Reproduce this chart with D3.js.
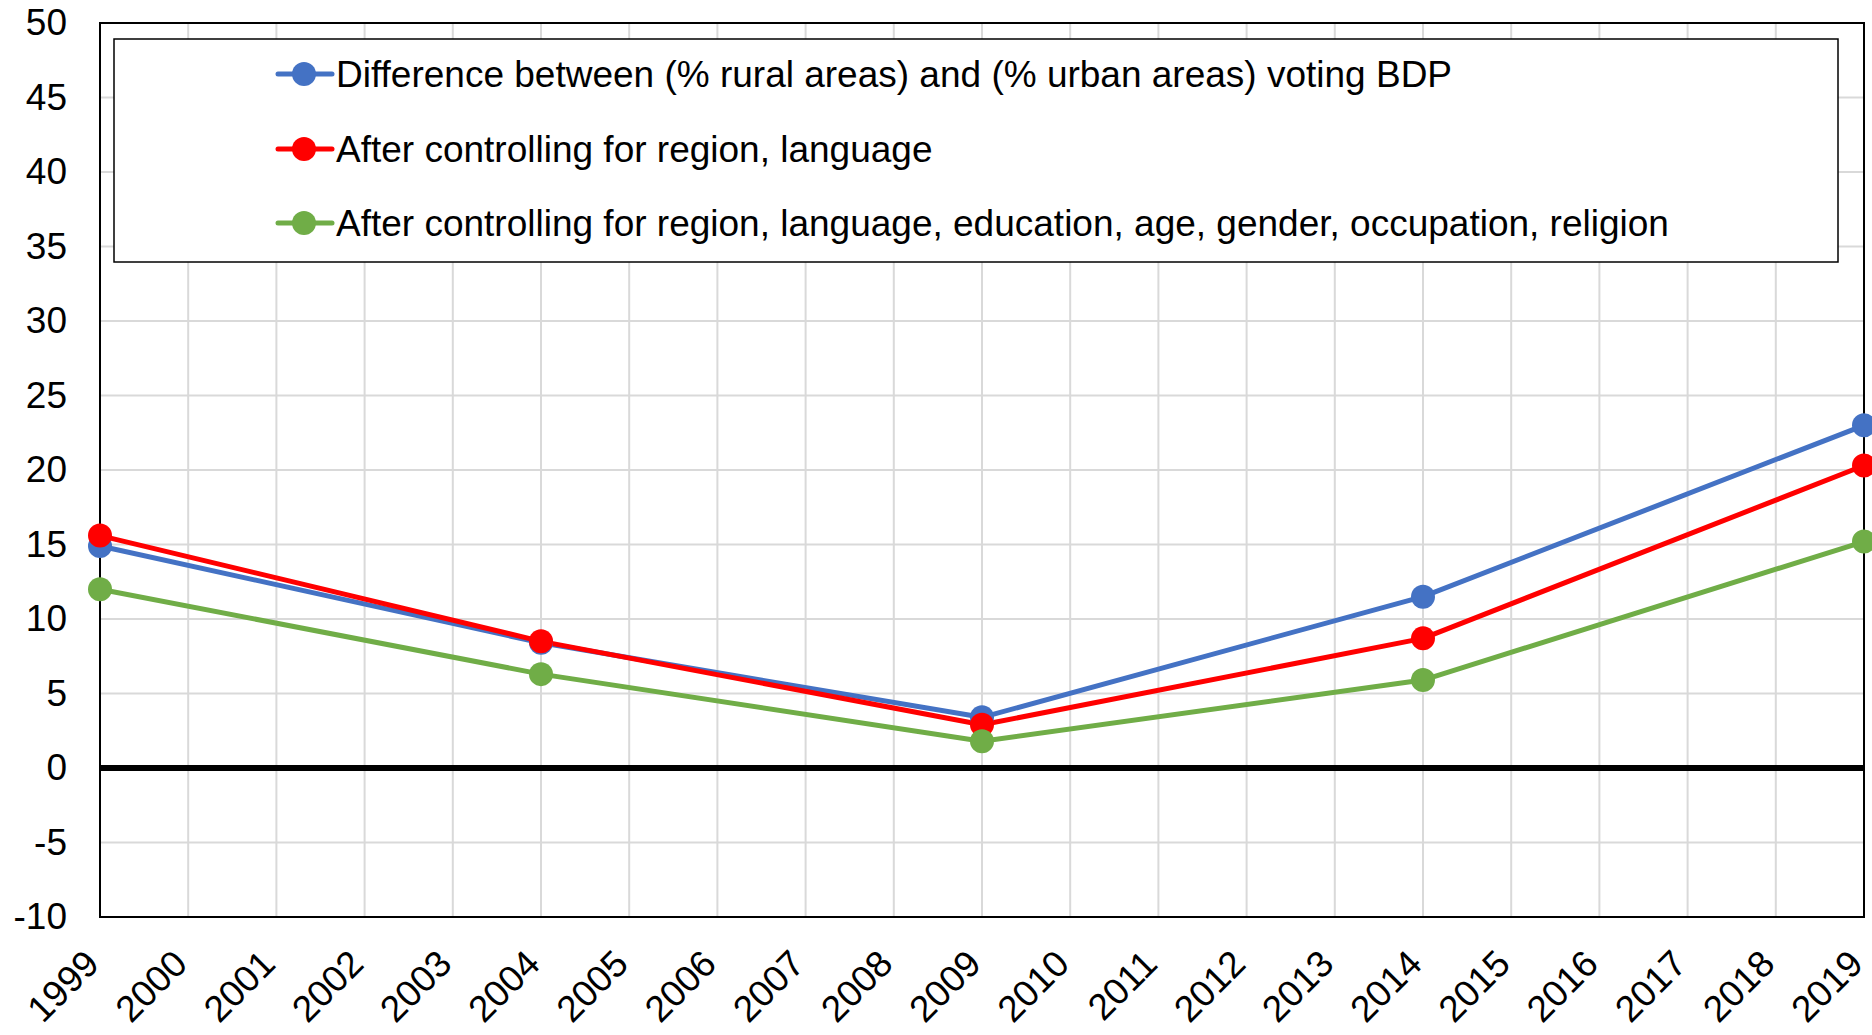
<!DOCTYPE html>
<html>
<head>
<meta charset="utf-8">
<script src="https://cdn.jsdelivr.net/npm/d3@7"></script>
<style>
  body { margin: 0; background: #fff; }
  text { font-family: Arial, "Liberation Sans", sans-serif; fill: #000; }
</style>
</head>
<body>
<div id="chart"></div>
<script>
// data
var years = [1999, 2004, 2009, 2014, 2019];
var diffAll = [14.9, 8.4, 3.4, 11.5, 23.0];
var ctrlRegionLang = [15.6, 8.5, 2.9, 8.7, 20.3];
var ctrlAll = [12.0, 6.3, 1.8, 5.9, 15.2];
var seriesNames = [
  "Difference between (% rural areas) and (% urban areas) voting BDP",
  "After controlling for region, language",
  "After controlling for region, language, education, age, gender, occupation, religion"
];
var seriesColors = ["#4472C4", "#FF0000", "#70AD47"];
var yTicks = [-10, -5, 0, 5, 10, 15, 20, 25, 30, 35, 40, 45, 50];
var xTicks = d3.range(1999, 2020);

var W = 1872, H = 1035;
var margin = { top: 23, right: 8, bottom: 118, left: 100 };
var width = W - margin.left - margin.right;
var height = H - margin.top - margin.bottom;

var svg = d3.select("#chart").append("svg")
  .attr("width", W)
  .attr("height", H);

var g = svg.append("g")
  .attr("transform", "translate(" + margin.left + "," + margin.top + ")");

var x = d3.scaleLinear().domain([1999, 2019]).range([0, width]);
var y = d3.scaleLinear().domain([-10, 50]).range([height, 0]);

// grid
g.append("g").selectAll("line.hg")
  .data(yTicks).enter().append("line")
  .attr("x1", 0).attr("x2", width)
  .attr("y1", function(d) { return y(d); })
  .attr("y2", function(d) { return y(d); })
  .style("stroke", "#d9d9d9").style("stroke-width", 2);

g.append("g").selectAll("line.vg")
  .data(xTicks).enter().append("line")
  .attr("y1", 0).attr("y2", height)
  .attr("x1", function(d) { return x(d); })
  .attr("x2", function(d) { return x(d); })
  .style("stroke", "#d9d9d9").style("stroke-width", 2);

// plot border
g.append("rect")
  .attr("width", width).attr("height", height)
  .style("fill", "none").style("stroke", "#000").style("stroke-width", 2);

// zero line
g.append("line")
  .attr("x1", 0).attr("x2", width)
  .attr("y1", y(0)).attr("y2", y(0))
  .style("stroke", "#000").style("stroke-width", 6);

// y axis labels (plain hyphen like the original)
var yAxis = d3.axisLeft(y).tickValues(yTicks).tickSize(0).tickPadding(33)
  .tickFormat(function(d) { return String(d); });
var ya = g.append("g").call(yAxis);
ya.select(".domain").remove();
ya.selectAll("text")
  .style("font-size", "37px")
  .style("font-family", "Arial, 'Liberation Sans', sans-serif");

// x axis labels, rotated
g.append("g").selectAll("text.xl")
  .data(xTicks).enter().append("text")
  .attr("transform", function(d) {
    return "translate(" + (x(d) + 1) + "," + (966 - margin.top) + ") rotate(-45)";
  })
  .attr("text-anchor", "end")
  .style("font-size", "37px")
  .text(function(d) { return d; });

// lines
var allSeries = [diffAll, ctrlRegionLang, ctrlAll];
var line = d3.line()
  .x(function(d, i) { return x(years[i]); })
  .y(function(d) { return y(d); });

allSeries.forEach(function(vals, si) {
  g.append("path")
    .datum(vals)
    .attr("d", line)
    .style("fill", "none")
    .style("stroke", seriesColors[si])
    .style("stroke-width", 5)
    .style("stroke-linejoin", "round");
});
allSeries.forEach(function(vals, si) {
  g.append("g").selectAll("circle")
    .data(vals).enter().append("circle")
    .attr("cx", function(d, i) { return x(years[i]); })
    .attr("cy", function(d) { return y(d); })
    .attr("r", 12)
    .style("fill", seriesColors[si]);
});

// legend
var legend = svg.append("g");
legend.append("rect")
  .attr("x", 114).attr("y", 39)
  .attr("width", 1724).attr("height", 223)
  .style("fill", "#fff").style("stroke", "#000").style("stroke-width", 1.5);

var rowY = [74, 149, 223];
seriesNames.forEach(function(name, i) {
  var row = legend.append("g").attr("transform", "translate(0," + rowY[i] + ")");
  row.append("line")
    .attr("x1", 278).attr("x2", 332)
    .style("stroke", seriesColors[i]).style("stroke-width", 5)
    .style("stroke-linecap", "round");
  row.append("circle").attr("cx", 304).attr("r", 12).style("fill", seriesColors[i]);
  row.append("text")
    .attr("x", 336).attr("dy", "0.36em")
    .style("font-size", "37px")
    .text(name);
});
</script>
</body>
</html>
